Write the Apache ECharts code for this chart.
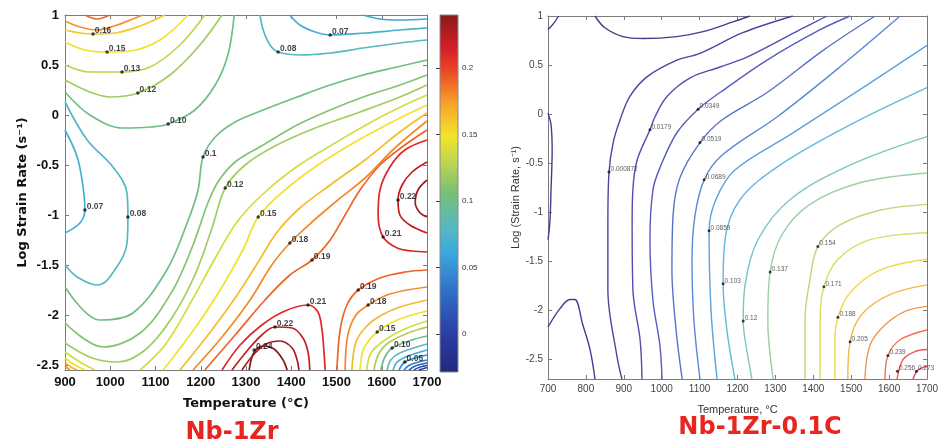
<!DOCTYPE html>
<html>
<head>
<meta charset="utf-8">
<script src="https://cdn.jsdelivr.net/npm/echarts@6/dist/echarts.min.js"></script>
<style>
html,body{margin:0;padding:0;background:#fff;}
#chart{width:945px;height:446px;}
</style>
</head>
<body>
<div id="chart"></div>
<script>
// ---------- Nb-1Zr panel (temperature, log strain rate) ----------
const zrTempTicks = [900, 1000, 1100, 1200, 1300, 1400, 1500, 1600, 1700];
const zrRateTicks = [-2.5, -2, -1.5, -1, -0.5, 0, 0.5, 1];
const zrBarRange = [-0.0285, 0.24];
const zrBarTicks = [0, 0.05, 0.1, 0.15, 0.2];

// contour lines, [temperature, log strain rate]
const zrTopLeft019 = [[944,1.0],[971,0.96],[999,1.0]];
const zrTopLeft018 = [[900,0.94],[933,0.88],[971,0.85],[1015,0.90],[1050,0.96],[1072,1.0]];
const zrTopLeft016 = [[900,0.85],[933,0.82],[962,0.81],[1011,0.82],[1066,0.89],[1121,1.0]];
const zrTopLeft015 = [[900,0.73],[944,0.65],[993,0.63],[1044,0.64],[1110,0.75],[1172,1.0]];
const zrTopLeft013 = [[900,0.5],[955,0.43],[1026,0.43],[1088,0.48],[1154,0.70],[1209,1.0]];
const zrTopLeft012 = [[900,0.35],[955,0.23],[999,0.18],[1061,0.22],[1132,0.40],[1198,0.70],[1247,1.0]];
const zrTopLeft010 = [[900,0.23],[955,0.0],[1028,-0.13],[1088,-0.12],[1128,-0.09],[1187,0.05],[1232,0.30],[1260,0.60],[1274,1.0]];
const zrValley008 = [[900,0.13],[949,-0.25],[1006,-0.52],[1037,-0.78],[1039,-1.02],[1037,-1.28],[999,-1.62],[971,-1.70],[927,-1.62],[900,-1.50]];
const zrValley007 = [[900,-0.15],[927,-0.42],[940,-0.72],[944,-0.95],[933,-1.08],[900,-1.18]];
const zrTopRight008 = [[1331,1.0],[1338,0.85],[1353,0.70],[1371,0.63],[1420,0.60],[1486,0.62],[1559,0.67],[1640,0.72],[1700,0.75]];
const zrTopRight007 = [[1397,1.0],[1419,0.90],[1453,0.83],[1486,0.80],[1563,0.82],[1640,0.85],[1700,0.87]];
const zrTopRight006 = [[1559,1.0],[1596,0.96],[1640,0.95],[1700,0.96]];
const zrBand010 = [[900,-1.72],[977,-2.05],[1050,-1.98],[1125,-1.55],[1170,-1.08],[1194,-0.75],[1205,-0.42],[1232,-0.22],[1276,-0.07],[1338,0.05],[1413,0.18],[1486,0.30],[1559,0.40],[1634,0.48],[1700,0.55]];
const zrBand011 = [[900,-2.08],[984,-2.32],[1066,-2.18],[1136,-1.77],[1183,-1.30],[1214,-0.90],[1238,-0.67],[1276,-0.47],[1338,-0.30],[1413,-0.10],[1486,0.05],[1559,0.18],[1634,0.29],[1700,0.40]];
const zrBand012 = [[900,-2.28],[960,-2.43],[1017,-2.47],[1077,-2.35],[1136,-2.03],[1187,-1.60],[1225,-1.13],[1254,-0.73],[1298,-0.50],[1364,-0.31],[1453,-0.13],[1552,0.03],[1640,0.18],[1700,0.30]];
const zrBand0137 = [[1066,-2.55],[1121,-2.30],[1181,-1.85],[1232,-1.43],[1280,-1.07],[1335,-0.80],[1408,-0.53],[1497,-0.28],[1585,-0.05],[1651,0.10],[1700,0.20]];
const zrBand015 = [[1117,-2.55],[1181,-2.17],[1243,-1.75],[1293,-1.35],[1327,-1.02],[1386,-0.75],[1459,-0.50],[1541,-0.27],[1623,-0.07],[1700,0.10]];
const zrBand0164 = [[1154,-2.55],[1216,-2.20],[1276,-1.83],[1327,-1.47],[1369,-1.17],[1419,-0.93],[1486,-0.70],[1563,-0.45],[1640,-0.17],[1700,0.02]];
const zrBand018 = [[1183,-2.55],[1247,-2.22],[1309,-1.85],[1357,-1.50],[1397,-1.28],[1446,-1.07],[1503,-0.85],[1563,-0.63],[1629,-0.33],[1700,-0.06]];
const zrBand019 = [[1209,-2.55],[1276,-2.20],[1342,-1.85],[1397,-1.60],[1446,-1.45],[1486,-1.25],[1519,-1.00],[1552,-0.75],[1596,-0.50],[1651,-0.30],[1700,-0.15]];
const zrPeak021 = [[1247,-2.55],[1287,-2.30],[1335,-2.10],[1386,-1.96],[1437,-1.90],[1459,-1.97],[1468,-2.15],[1472,-2.35],[1475,-2.55]];
const zrPeak022 = [[1269,-2.55],[1304,-2.35],[1335,-2.20],[1364,-2.12],[1402,-2.13],[1426,-2.23],[1437,-2.37],[1441,-2.55]];
const zrPeak023 = [[1291,-2.55],[1318,-2.39],[1344,-2.29],[1375,-2.26],[1402,-2.33],[1413,-2.45],[1417,-2.55]];
const zrPeak024 = [[1307,-2.55],[1318,-2.37],[1338,-2.31],[1362,-2.34],[1382,-2.45],[1391,-2.55]];
const zrRight021 = [[1700,-0.25],[1651,-0.35],[1618,-0.52],[1596,-0.75],[1592,-1.0],[1603,-1.22],[1634,-1.33],[1667,-1.36],[1700,-1.37]];
const zrRight022 = [[1700,-0.47],[1667,-0.57],[1645,-0.70],[1636,-0.85],[1640,-1.0],[1662,-1.10],[1700,-1.18]];
const zrRight023 = [[1700,-0.65],[1680,-0.75],[1674,-0.88],[1685,-0.98],[1700,-1.02]];
const zrCorner019 = [[1501,-2.55],[1508,-2.15],[1523,-1.90],[1548,-1.75],[1596,-1.63],[1651,-1.57],[1700,-1.55]];
const zrCorner018 = [[1519,-2.55],[1525,-2.20],[1543,-2.0],[1570,-1.90],[1618,-1.79],[1700,-1.72]];
const zrCorner0165 = [[1534,-2.55],[1543,-2.27],[1565,-2.12],[1596,-2.01],[1640,-1.92],[1700,-1.85]];
const zrCorner015 = [[1552,-2.55],[1561,-2.33],[1590,-2.17],[1634,-2.05],[1700,-1.96]];
const zrCorner0137 = [[1567,-2.55],[1576,-2.38],[1607,-2.25],[1651,-2.14],[1700,-2.06]];
const zrCorner0123 = [[1583,-2.55],[1592,-2.40],[1614,-2.28],[1658,-2.18],[1700,-2.12]];
const zrCorner010 = [[1598,-2.55],[1607,-2.42],[1623,-2.33],[1667,-2.25],[1700,-2.21]];
const zrCorner0082 = [[1612,-2.55],[1620,-2.45],[1640,-2.38],[1700,-2.29]];
const zrCorner0068 = [[1625,-2.55],[1634,-2.47],[1658,-2.41],[1700,-2.35]];
const zrCorner005 = [[1638,-2.55],[1651,-2.47],[1674,-2.43],[1700,-2.40]];
const zrCorner0041 = [[1649,-2.55],[1662,-2.50],[1700,-2.45]];
const zrCorner0027 = [[1660,-2.55],[1674,-2.51],[1700,-2.48]];
const zrCorner0014 = [[1671,-2.55],[1685,-2.52],[1700,-2.505]];
const zrCorner000 = [[1682,-2.55],[1700,-2.525]];
const zrLowLeft0137 = [[900,-2.37],[933,-2.47],[966,-2.55]];
const zrLowLeft015 = [[900,-2.43],[922,-2.50],[944,-2.55]];
const zrLowLeft0164 = [[900,-2.47],[913,-2.52],[927,-2.55]];
const zrLowLeft0178 = [[900,-2.51],[911,-2.55]];

const zrLevels = [0.19,0.178,0.16,0.15,0.13,0.12,0.10,0.08,0.07,0.08,0.07,0.06,
  0.10,0.11,0.12,0.137,0.15,0.164,0.18,0.19,0.21,0.22,0.23,0.24,0.21,0.22,0.23,
  0.19,0.18,0.165,0.15,0.137,0.123,0.10,0.082,0.068,0.05,0.041,0.027,0.014,0.0,
  0.137,0.15,0.164,0.178];
const zrLines = [zrTopLeft019,zrTopLeft018,zrTopLeft016,zrTopLeft015,zrTopLeft013,zrTopLeft012,zrTopLeft010,
  zrValley008,zrValley007,zrTopRight008,zrTopRight007,zrTopRight006,
  zrBand010,zrBand011,zrBand012,zrBand0137,zrBand015,zrBand0164,zrBand018,zrBand019,
  zrPeak021,zrPeak022,zrPeak023,zrPeak024,zrRight021,zrRight022,zrRight023,
  zrCorner019,zrCorner018,zrCorner0165,zrCorner015,zrCorner0137,zrCorner0123,zrCorner010,
  zrCorner0082,zrCorner0068,zrCorner005,zrCorner0041,zrCorner0027,zrCorner0014,zrCorner000,
  zrLowLeft0137,zrLowLeft015,zrLowLeft0164,zrLowLeft0178];

const zrLabelText = ['0.16','0.15','0.13','0.12','0.10','0.1','0.12','0.15','0.18','0.19','0.21','0.22','0.24',
  '0.19','0.18','0.15','0.10','0.05','0.21','0.22','0.08','0.07','0.07','0.08'];
const zrLabelPos = [[962,0.81],[993,0.63],[1026,0.43],[1061,0.22],[1128,-0.09],[1205,-0.42],[1254,-0.73],
  [1327,-1.02],[1397,-1.28],[1446,-1.45],[1437,-1.90],[1364,-2.12],[1318,-2.35],
  [1548,-1.75],[1570,-1.90],[1590,-2.17],[1623,-2.33],[1651,-2.47],[1603,-1.22],[1636,-0.85],
  [1371,0.63],[1486,0.80],[944,-0.95],[1039,-1.02]];

// ---------- Nb-1Zr-0.1C panel ----------
const zrcTempTicks = [700, 800, 900, 1000, 1100, 1200, 1300, 1400, 1500, 1600, 1700];
const zrcRateTicks = [-2.5, -2, -1.5, -1, -0.5, 0, 0.5, 1];
const zrcLevelRange = [-0.0161, 0.273];

const zrcLowCorner = [[700,0.86],[716,0.93],[728,1.0]];
const zrcLowEdge = [[700,0.01],[708,-0.11],[711,-0.36],[708,-0.77],[705,-1.10],[700,-1.28]];
const zrcLowBump = [[700,-2.17],[732,-1.98],[758,-1.89],[771,-1.89],[792,-2.15],[811,-2.40],[824,-2.70]];
const zrcLowTop = [[824,1.0],[850,0.88],[898,0.79],[951,0.77],[1040,0.79],[1109,0.84],[1188,0.94],[1233,1.0]];
const zrcK0 = [[895,-2.70],[882,-2.47],[858,-1.79],[858,-1.11],[861,-0.59],[872,-0.29],[890,-0.06],[916,0.18],[961,0.38],[1040,0.55],[1101,0.62],[1214,0.83],[1346,1.0]];
const zrcK1 = [[948,-2.70],[943,-2.30],[924,-1.79],[922,-1.11],[924,-0.77],[935,-0.47],[969,-0.16],[982,-0.03],[1014,0.18],[1075,0.37],[1154,0.48],[1225,0.58],[1365,0.86],[1436,1.0]];
const zrcK2 = [[1001,-2.70],[995,-2.35],[977,-1.90],[969,-1.28],[977,-0.77],[996,-0.54],[1040,-0.19],[1096,0.05],[1154,0.22],[1278,0.55],[1418,0.86],[1497,1.0]];
const zrcK3 = [[1054,-2.70],[1038,-2.20],[1027,-1.59],[1030,-1.03],[1048,-0.65],[1101,-0.29],[1159,-0.06],[1278,0.22],[1426,0.65],[1563,1.0]];
const zrcK4 = [[1101,-2.70],[1085,-2.10],[1080,-1.48],[1088,-1.03],[1112,-0.67],[1159,-0.42],[1304,-0.03],[1470,0.48],[1629,1.0]];
const zrcK5 = [[1146,-2.70],[1130,-1.99],[1125,-1.19],[1143,-0.87],[1193,-0.57],[1339,-0.21],[1523,0.25],[1700,0.70]];
const zrcK6 = [[1193,-2.70],[1172,-2.20],[1162,-1.73],[1167,-1.28],[1207,-0.87],[1312,-0.52],[1497,-0.11],[1700,0.27]];
const zrcK7 = [[1238,-2.70],[1220,-2.30],[1215,-2.11],[1220,-1.74],[1254,-1.28],[1339,-0.87],[1497,-0.52],[1700,-0.23]];
const zrcK8 = [[1294,-2.70],[1280,-2.10],[1286,-1.61],[1317,-1.23],[1391,-0.92],[1523,-0.70],[1700,-0.60]];
const zrcK9 = [[1378,-2.70],[1378,-2.10],[1391,-1.69],[1412,-1.35],[1470,-1.13],[1576,-0.98],[1700,-0.92]];
const zrcK10 = [[1418,-2.70],[1418,-2.10],[1428,-1.76],[1465,-1.48],[1550,-1.28],[1700,-1.21]];
const zrcK11 = [[1457,-2.70],[1457,-2.30],[1465,-2.07],[1497,-1.82],[1576,-1.59],[1700,-1.48]];
const zrcK12 = [[1491,-2.70],[1497,-2.32],[1528,-2.04],[1602,-1.84],[1700,-1.74]];
const zrcK13 = [[1536,-2.70],[1550,-2.35],[1589,-2.15],[1642,-2.01],[1700,-1.96]];
const zrcK14 = [[1589,-2.70],[1597,-2.46],[1629,-2.30],[1700,-2.20]];
const zrcK15 = [[1621,-2.70],[1637,-2.50],[1668,-2.42],[1700,-2.40]];
const zrcK16 = [[1663,-2.70],[1676,-2.61],[1700,-2.57]];

const zrcLevels = [-0.0161,-0.0161,-0.0161,-0.0161,0.000872,0.0179,0.0349,0.0519,0.0689,0.0859,0.103,0.12,0.137,0.154,0.171,0.188,0.205,0.222,0.239,0.256,0.273];
const zrcLines = [zrcLowCorner,zrcLowEdge,zrcLowBump,zrcLowTop,zrcK0,zrcK1,zrcK2,zrcK3,zrcK4,zrcK5,zrcK6,zrcK7,zrcK8,zrcK9,zrcK10,zrcK11,zrcK12,zrcK13,zrcK14,zrcK15,zrcK16];

const zrcLabelText = ['0.000872','0.0179','0.0349','0.0519','0.0689','0.0859','0.103','0.12','0.137','0.154','0.171','0.188','0.205','0.239','0.256','0.273'];
const zrcLabelPos = [[861,-0.59],[969,-0.16],[1096,0.05],[1101,-0.29],[1112,-0.67],[1125,-1.19],[1162,-1.73],[1215,-2.11],
  [1286,-1.61],[1412,-1.35],[1428,-1.76],[1465,-2.07],[1497,-2.32],[1597,-2.46],[1622,-2.62],[1672,-2.62]];

// ---------- colour scales ----------
const JET_STOPS = [[0,'#23287a'],[0.11,'#2a3ea6'],[0.22,'#2f6cc4'],[0.33,'#3aa6df'],[0.4,'#55b8c4'],
  [0.5,'#76bf78'],[0.6,'#c7d94a'],[0.66,'#f2e52a'],[0.75,'#f7a42a'],[0.84,'#ec4a25'],[0.9,'#d92027'],[1,'#861a1c']];
const SOFT_STOPS = [[0,'#463c8f'],[0.15,'#5552b8'],[0.3,'#5a8ad8'],[0.4,'#5cb6e2'],[0.5,'#88cbb8'],
  [0.6,'#c8d874'],[0.7,'#f0dc4c'],[0.8,'#f6a448'],[0.9,'#f0684e'],[1,'#e63c5a']];

function hex(c){return [parseInt(c.slice(1,3),16),parseInt(c.slice(3,5),16),parseInt(c.slice(5,7),16)];}
function pick(stops,t){
  t=Math.max(0,Math.min(1,t));
  for(let i=1;i<stops.length;i++){
    if(t<=stops[i][0]){
      const a=stops[i-1],b=stops[i];
      const f=(t-a[0])/(b[0]-a[0]);
      const ca=hex(a[1]),cb=hex(b[1]);
      return 'rgb('+ca.map((v,j)=>Math.round(v+(cb[j]-v)*f)).join(',')+')';
    }
  }
  return stops[stops.length-1][1];
}
const zrColor = v => pick(JET_STOPS,(v-zrBarRange[0])/(zrBarRange[1]-zrBarRange[0]));
const zrcColor = v => pick(SOFT_STOPS,(v-zrcLevelRange[0])/(zrcLevelRange[1]-zrcLevelRange[0]));

function contour(pts,color,width,xi,yi){
  return {type:'line',xAxisIndex:xi,yAxisIndex:yi,data:pts,showSymbol:false,symbol:'none',
    smooth:0.35,silent:true,animation:false,z:2,lineStyle:{color:color,width:width}};
}
function labels(text,pos,xi,yi,style){
  return {type:'scatter',xAxisIndex:xi,yAxisIndex:yi,silent:true,animation:false,z:5,
    data:pos.map((p,i)=>[p[0],p[1],text[i]]),symbol:'circle',symbolSize:style.dot,
    itemStyle:{color:'#111'},
    label:{show:true,position:'right',distance:0,offset:[0,-3],formatter:p=>p.data[2],
      fontSize:style.size,fontWeight:style.weight,color:style.color,fontFamily:'Liberation Sans'}};
}

const AX = '#7a7a7a';
const plain = v => String(v);
function boxAxis(grid,min,max,pos,extra){
  return Object.assign({gridIndex:grid,type:'value',min:min,max:max,position:pos,
    axisLine:{show:true,onZero:false,lineStyle:{color:AX,width:1}},
    axisTick:{show:true,inside:true,length:4,lineStyle:{color:AX}},
    axisLabel:{show:false},splitLine:{show:false}},extra||{});
}

const series = [];
zrLines.forEach((l,i)=>series.push(contour(l,zrColor(zrLevels[i]),1.7,0,0)));
zrcLines.forEach((l,i)=>series.push(contour(l,zrcColor(zrcLevels[i]),1.4,3,4)));
series.push(labels(zrLabelText,zrLabelPos,0,0,{dot:3.5,size:8.5,weight:'bold',color:'#111'}));
series.push(labels(zrcLabelText,zrcLabelPos,3,4,{dot:3,size:6.5,weight:'normal',color:'#333'}));

// colour bar as a gradient rectangle spanning the value axis
series.push({type:'custom',xAxisIndex:2,yAxisIndex:2,silent:true,animation:false,z:1,
  data:[[0,zrBarRange[0],zrBarRange[1]]],
  renderItem:function(params,api){
    const p0=api.coord([0,api.value(2)]), p1=api.coord([1,api.value(1)]);
    return {type:'rect',shape:{x:p0[0],y:p0[1],width:p1[0]-p0[0],height:p1[1]-p0[1]},
      style:{fill:new echarts.graphic.LinearGradient(0,1,0,0,JET_STOPS.map(s=>({offset:s[0],color:s[1]}))),
        stroke:'#888',lineWidth:1}};
  }});

const tickFontL = {color:'#111',fontSize:13,fontWeight:'bold',fontFamily:'Liberation Sans',margin:6,formatter:plain};
const tickFontR = {color:'#444',fontSize:10,fontFamily:'Liberation Sans',margin:5,formatter:plain};

const option = {
  backgroundColor:'#ffffff',
  animation:false,
  grid:[
    {left:65,top:15,width:362,height:355},
    {left:440,top:15,width:18,height:357},
    {left:548,top:16,width:379,height:363}
  ],
  xAxis:[
    boxAxis(0,900,1700,'bottom',{interval:100,
      axisLabel:Object.assign({show:true,customValues:zrTempTicks},tickFontL),
      axisTick:{show:true,inside:true,length:4,customValues:zrTempTicks,lineStyle:{color:AX}},
      name:'Temperature (°C)',nameLocation:'middle',nameGap:27,
      nameTextStyle:{fontWeight:'bold',fontSize:13,color:'#111',fontFamily:'DejaVu Sans'}}),
    boxAxis(0,900,1700,'top',{interval:100}),
    {gridIndex:1,type:'value',min:0,max:1,show:false},
    boxAxis(2,700,1700,'bottom',{interval:100,
      axisLabel:Object.assign({show:true,customValues:zrcTempTicks},tickFontR),
      axisTick:{show:true,inside:true,length:4,customValues:zrcTempTicks,lineStyle:{color:AX}},
      name:'Temperature, °C',nameLocation:'middle',nameGap:25,
      nameTextStyle:{fontSize:11,color:'#333',fontFamily:'Liberation Sans'}}),
    boxAxis(2,700,1700,'top',{interval:100})
  ],
  yAxis:[
    boxAxis(0,-2.55,1,'left',{
      axisLabel:Object.assign({show:true,customValues:zrRateTicks},tickFontL),
      axisTick:{show:true,inside:true,length:4,customValues:zrRateTicks,lineStyle:{color:AX}},
      name:'Log Strain Rate (s⁻¹)',nameLocation:'middle',nameGap:36,
      nameTextStyle:{fontWeight:'bold',fontSize:13,color:'#111',fontFamily:'DejaVu Sans'}}),
    boxAxis(0,-2.55,1,'right',{axisTick:{show:true,inside:true,length:4,customValues:zrRateTicks,lineStyle:{color:AX}}}),
    {gridIndex:1,type:'value',min:zrBarRange[0],max:zrBarRange[1],position:'right',
      axisLine:{show:false},splitLine:{show:false},
      axisTick:{show:true,inside:true,length:4,customValues:zrBarTicks,lineStyle:{color:'#333'}},
      axisLabel:{show:true,customValues:zrBarTicks,fontSize:8,color:'#333',margin:4,fontFamily:'Liberation Sans',formatter:plain}},
    {gridIndex:1,type:'value',min:zrBarRange[0],max:zrBarRange[1],position:'left',
      axisLine:{show:false},splitLine:{show:false},axisLabel:{show:false},
      axisTick:{show:true,inside:true,length:4,customValues:zrBarTicks,lineStyle:{color:'#333'}}},
    boxAxis(2,-2.7,1,'left',{
      axisLabel:Object.assign({show:true,customValues:zrcRateTicks},tickFontR),
      axisTick:{show:true,inside:true,length:4,customValues:zrcRateTicks,lineStyle:{color:AX}},
      name:'Log (Strain Rate, s⁻¹)',nameLocation:'middle',nameGap:25,
      nameTextStyle:{fontSize:11,color:'#333',fontFamily:'Liberation Sans'}}),
    boxAxis(2,-2.7,1,'right',{axisTick:{show:true,inside:true,length:4,customValues:zrcRateTicks,lineStyle:{color:AX}}})
  ],
  graphic:[
    {type:'text',x:232,y:433,style:{text:'Nb-1Zr',fill:'#e8251f',font:'bold 24px "DejaVu Sans"',align:'center',verticalAlign:'middle'}},
    {type:'text',x:760,y:428,style:{text:'Nb-1Zr-0.1C',fill:'#e8251f',font:'bold 24px "DejaVu Sans"',align:'center',verticalAlign:'middle'}}
  ],
  series:series
};

echarts.init(document.getElementById('chart'),null,{renderer:'canvas'}).setOption(option);
</script>
</body>
</html>
